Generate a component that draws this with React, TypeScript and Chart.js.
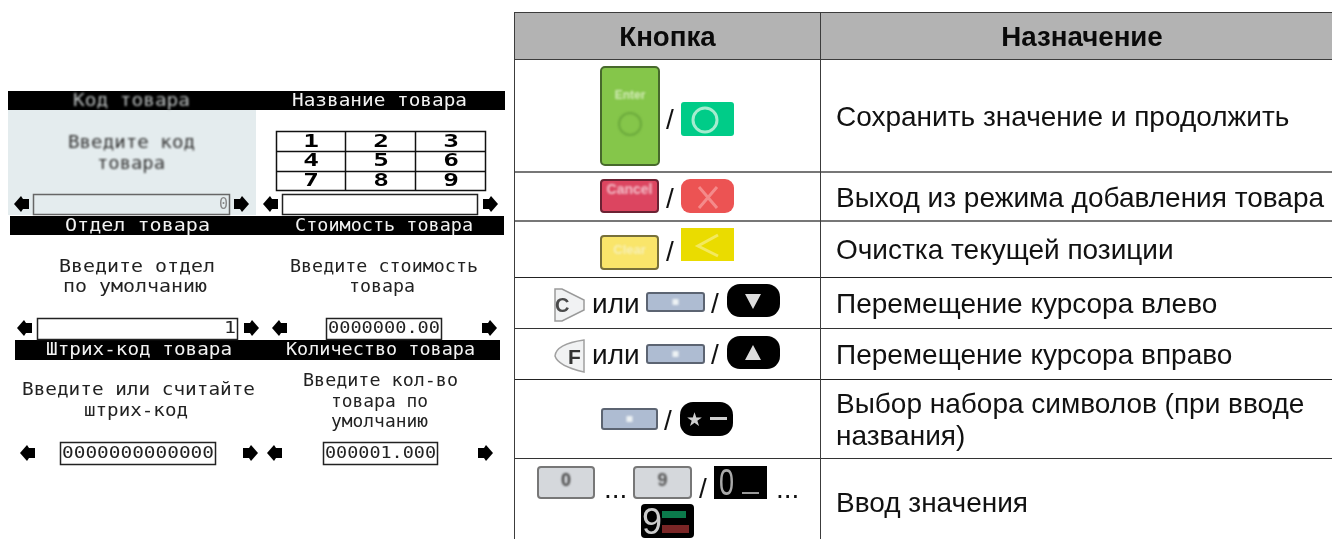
import React, { useEffect, useRef } from "react";
import { Chart, registerables } from "chart.js";
Chart.register(...registerables);

const tableHeaders = ["Кнопка", "Назначение"];
const rowEdges: [number, number, string][] = [
  [59, 1, "#3c3c3c"], [171, 2, "#777"], [220, 2, "#777"], [277, 1, "#222"],
  [328, 1, "#333"], [379, 1, "#222"], [458, 1, "#333"],
];
const purposes = [
  ["Сохранить значение и продолжить"],
  ["Выход из режима добавления товара"],
  ["Очистка текущей позиции"],
  ["Перемещение курсора влево"],
  ["Перемещение курсора вправо"],
  ["Выбор набора символов (при вводе", "названия)"],
  ["Ввод значения"],
];
const purposeBaselines = [[126], [207], [259], [313], [364], [413, 445], [512]];
const barLabels: [string, number, number, number, boolean][] = [
  ["Код товара", 73, 190, 102, true],
  ["Название товара", 292, 467, 102, false],
  ["Отдел товара", 65, 210, 227, false],
  ["Стоимость товара", 295, 473, 227, false],
  ["Штрих-код товара", 46, 232, 351, false],
  ["Количество товара", 286, 475, 351, false],
];
const promptLabels: [string, number, number, number, boolean][] = [
  ["Введите код", 68, 195, 144, true],
  ["товара", 97, 165, 165, true],
  ["Введите отдел", 59, 215, 268, false],
  ["по умолчанию", 63, 207, 288, false],
  ["Введите стоимость", 290, 478, 268, false],
  ["товара", 349, 415, 288, false],
  ["Введите или считайте", 22, 255, 391, false],
  ["штрих-код", 84, 188, 412, false],
  ["Введите кол-во", 303, 458, 382, false],
  ["товара по", 331, 428, 403, false],
  ["умолчанию", 331, 428, 423, false],
];
const keypadDigits = ["1", "2", "3", "4", "5", "6", "7", "8", "9"];
const fields: [string, number, number, number, number, number, number][] = [
  ["0", 33, 230, 194, 215, 219, 228],
  ["", 282, 478, 194, 215, 0, 0],
  ["1", 37, 238, 318, 340, 224, 236],
  ["0000000.00", 326, 442, 318, 340, 328, 440],
  ["0000000000000", 60, 216, 442, 465, 62, 214],
  ["000001.000", 323, 438, 442, 465, 325, 436],
];
const arrows: [number, number, number][] = [
  [22, 204, -1], [241, 204, 1], [271, 204, -1], [490, 204, 1],
  [25, 328, -1], [251, 328, 1], [280, 328, -1], [489, 328, 1],
  [28, 453, -1], [250, 453, 1], [275, 453, -1], [485, 453, 1],
];

const SANS = '"Liberation Sans"';
const MONO = '"DejaVu Sans Mono"';

function fit(ctx: CanvasRenderingContext2D, t: string, l: number, r: number, y: number, size: number) {
  ctx.font = `${size}px ${MONO}`;
  ctx.textAlign = "left";
  ctx.textBaseline = "middle";
  const w = ctx.measureText(t).width;
  ctx.save();
  ctx.translate(l, y);
  ctx.scale((r - l) / w, 1);
  ctx.fillText(t, 0, 0);
  ctx.restore();
}

function rr(ctx: CanvasRenderingContext2D, x0: number, y0: number, x1: number, y1: number, r: number, fill: string, stroke?: string, lw = 2) {
  ctx.beginPath();
  (ctx as any).roundRect(x0, y0, x1 - x0, y1 - y0, r);
  ctx.fillStyle = fill;
  ctx.fill();
  if (stroke) {
    ctx.strokeStyle = stroke;
    ctx.lineWidth = lw;
    ctx.stroke();
  }
}

function sans(ctx: CanvasRenderingContext2D, t: string, x: number, y: number, align: CanvasTextAlign = "left", size = 28, weight = "", color = "#111") {
  ctx.font = `${weight} ${size}px ${SANS}`;
  ctx.fillStyle = color;
  ctx.textAlign = align;
  ctx.textBaseline = "alphabetic";
  ctx.fillText(t, x, y);
}

function smallKey(ctx: CanvasRenderingContext2D, x0: number, y0: number, x1: number, y1: number, label: string, fill: string, stroke: string, textCol: string, size = 13, dy = -6) {
  rr(ctx, x0 + 1, y0 + 1, x1 - 1, y1 - 1, 3, fill, stroke);
  ctx.save();
  ctx.filter = "blur(0.8px)";
  ctx.font = `bold ${size}px ${SANS}`;
  ctx.fillStyle = textCol;
  ctx.textAlign = "center";
  ctx.textBaseline = "middle";
  ctx.fillText(label, (x0 + x1) / 2, (y0 + y1) / 2 + dy);
  ctx.restore();
}

function blackPill(ctx: CanvasRenderingContext2D, x0: number, y0: number, x1: number, y1: number) {
  rr(ctx, x0, y0, x1, y1, 13, "#000");
}

function tri(ctx: CanvasRenderingContext2D, cx: number, cy: number, up: boolean) {
  ctx.beginPath();
  const d = up ? 1 : -1;
  ctx.moveTo(cx, cy - 8 * d);
  ctx.lineTo(cx - 8, cy + 7 * d);
  ctx.lineTo(cx + 8, cy + 7 * d);
  ctx.closePath();
  ctx.fillStyle = "#ddd";
  ctx.fill();
}

function grayKey(ctx: CanvasRenderingContext2D, x0: number, y0: number, x1: number, y1: number) {
  rr(ctx, x0 + 1, y0 + 1, x1 - 1, y1 - 1, 2, "#aebcd2", "#5c6472");
  ctx.save();
  ctx.filter = "blur(0.8px)";
  ctx.fillStyle = "#eef2f4";
  const c = (x0 + x1) / 2;
  const m = (y0 + y1) / 2;
  ctx.fillRect(c - 3, m - 3, 6, 6);
  ctx.restore();
}

const tablePlugin = {
  id: "tablePlugin",
  beforeDraw(chart: any) {
    const ctx: CanvasRenderingContext2D = chart.ctx;
    const X = (v: number) => chart.scales.x.getPixelForValue(v);
    const Y = (v: number) => chart.scales.y.getPixelForValue(v);
    ctx.save();
    ctx.fillStyle = "#fff";
    ctx.fillRect(0, 0, 1332, 539);

    // table header
    ctx.fillStyle = "#b3b3b3";
    ctx.fillRect(X(514), Y(13), 818, 46);
    ctx.fillStyle = "#3c3c3c";
    ctx.fillRect(X(514), Y(12), 818, 1);
    rowEdges.forEach(([e, h, c]) => {
      ctx.fillStyle = c;
      ctx.fillRect(X(514), Y(e), 818, h);
    });
    ctx.fillStyle = "#3c3c3c";
    ctx.fillRect(X(514), Y(12), 1, 527);
    ctx.fillRect(X(820), Y(12), 1, 527);
    sans(ctx, tableHeaders[0], X(667.5), Y(46), "center", 27.7, "bold", "#0a0a0a");
    sans(ctx, tableHeaders[1], X(1082), Y(46), "center", 27.7, "bold", "#0a0a0a");
    purposes.forEach((lines, i) => lines.forEach((l, j) => sans(ctx, l, X(836), Y(purposeBaselines[i][j]))));

    // row 1
    rr(ctx, 601, 67, 659, 165, 4, "#85c64a", "#47692c");
    ctx.save();
    ctx.filter = "blur(0.8px)";
    ctx.font = `bold 12px ${SANS}`;
    ctx.fillStyle = "#d4ecb8";
    ctx.textAlign = "center";
    ctx.fillText("Enter", 630, 99);
    ctx.strokeStyle = "#6ba93c";
    ctx.lineWidth = 2;
    ctx.beginPath();
    ctx.arc(630, 124, 11, 0, Math.PI * 2);
    ctx.stroke();
    ctx.restore();
    sans(ctx, "/", 670, 129, "center");
    rr(ctx, 681, 102, 734, 136, 3, "#00cc88");
    ctx.strokeStyle = "#a5eccf";
    ctx.lineWidth = 3;
    ctx.beginPath();
    ctx.arc(705, 120, 12, 0, Math.PI * 2);
    ctx.stroke();

    // row 2
    smallKey(ctx, 600, 179, 659, 213, "Cancel", "#dc4560", "#6b2233", "#f3c0ca", 14);
    sans(ctx, "/", 670, 208, "center");
    rr(ctx, 681, 179, 734, 213, 9, "#ec5353");
    ctx.save();
    ctx.filter = "blur(0.6px)";
    ctx.strokeStyle = "#f48a8a";
    ctx.lineWidth = 3;
    ctx.beginPath();
    ctx.moveTo(699, 187); ctx.lineTo(717, 208);
    ctx.moveTo(717, 187); ctx.lineTo(699, 208);
    ctx.stroke();
    ctx.restore();

    // row 3
    smallKey(ctx, 600, 235, 659, 270, "Clear", "#f9e56a", "#77703a", "#f7f0b8", 13, -2);
    sans(ctx, "/", 670, 261, "center");
    ctx.fillStyle = "#eadc00";
    ctx.fillRect(681, 228, 53, 33);
    ctx.strokeStyle = "#f3e95e";
    ctx.lineWidth = 3;
    ctx.beginPath();
    ctx.moveTo(718, 235); ctx.lineTo(698, 246); ctx.lineTo(718, 256);
    ctx.stroke();

    // row 4 and 5: function keys
    ctx.save();
    ctx.filter = "blur(0.5px)";
    ctx.beginPath();
    ctx.moveTo(555, 289); ctx.lineTo(562, 289); ctx.lineTo(584, 300); ctx.lineTo(584, 310); ctx.lineTo(562, 321); ctx.lineTo(555, 321); ctx.closePath();
    ctx.fillStyle = "#f1f2f3";
    ctx.fill();
    ctx.strokeStyle = "#9a9a9a";
    ctx.lineWidth = 1.5;
    ctx.stroke();
    sans(ctx, "C", 555, 312, "left", 20, "bold", "#4a4a4a");
    ctx.beginPath();
    ctx.moveTo(584, 340);
    ctx.quadraticCurveTo(556, 344, 555, 356);
    ctx.quadraticCurveTo(558, 366, 584, 372);
    ctx.closePath();
    ctx.fillStyle = "#f1f2f3";
    ctx.fill();
    ctx.strokeStyle = "#a0a0a0";
    ctx.stroke();
    sans(ctx, "F", 568, 364, "left", 21, "bold", "#333");
    ctx.restore();
    [[312.5, 292, 284, false], [364, 344, 336, true]].forEach(([base, ky, py, up]: any) => {
      sans(ctx, "или", 592, base);
      grayKey(ctx, 646, ky, 705, ky + 20);
      sans(ctx, "/", 715, base, "center");
      blackPill(ctx, 727, py, 780, py + 33);
      tri(ctx, 753, py + 17, up);
    });

    // row 6
    grayKey(ctx, 601, 408, 658, 430);
    sans(ctx, "/", 668, 430, "center");
    blackPill(ctx, 680, 402, 733, 436);
    sans(ctx, "★", 694, 426, "center", 19, "", "#cfcfcf");
    ctx.fillStyle = "#cfcfcf";
    ctx.fillRect(710, 417, 17, 3);

    // row 7
    smallKey(ctx, 537, 466, 595, 499, "0", "#d5d8dc", "#777", "#444", 18, -1);
    sans(ctx, "...", 604, 498);
    smallKey(ctx, 633, 466, 692, 499, "9", "#d5d8dc", "#777", "#555", 18, -1);
    sans(ctx, "/", 703, 498, "center");
    ctx.fillStyle = "#000";
    ctx.fillRect(714, 466, 53, 33);
    ctx.save();
    ctx.translate(719, 495);
    ctx.scale(0.75, 1);
    sans(ctx, "0", 0, 0, "left", 36, "", "#aaa");
    ctx.restore();
    ctx.fillStyle = "#999";
    ctx.fillRect(742, 492, 17, 2);
    sans(ctx, "...", 776, 498);
    rr(ctx, 641, 504, 694, 538, 4, "#000");
    sans(ctx, "9", 642, 534, "left", 36, "", "#ccc");
    ctx.save();
    ctx.filter = "blur(0.6px)";
    ctx.fillStyle = "#0b7a4b";
    ctx.fillRect(662, 511, 24, 7);
    ctx.fillStyle = "#7a2626";
    ctx.fillRect(662, 525, 27, 8);
    ctx.restore();

    // LCD panels
    ctx.fillStyle = "#e4ecee";
    ctx.fillRect(8, 110, 248, 105);
    ctx.fillStyle = "#000";
    ctx.fillRect(8, 91, 497, 19);
    ctx.fillRect(10, 216, 246, 19);
    ctx.fillRect(256, 216, 248, 19);
    ctx.fillRect(15, 340, 485, 20);

    // keypad
    ctx.strokeStyle = "#111";
    ctx.lineWidth = 1.5;
    ctx.strokeRect(276.5, 131.5, 209, 59);
    [345.5, 415.5].forEach((x) => { ctx.beginPath(); ctx.moveTo(x, 131); ctx.lineTo(x, 191); ctx.stroke(); });
    [151.5, 171.5].forEach((y) => { ctx.beginPath(); ctx.moveTo(276, y); ctx.lineTo(486, y); ctx.stroke(); });
    ctx.fillStyle = "#000";
    keypadDigits.forEach((d, i) => {
      const cx = 311 + (i % 3) * 70;
      const cy = 142 + Math.floor(i / 3) * 19.5;
      ctx.save();
      ctx.translate(cx, cy);
      ctx.scale(1.45, 1);
      ctx.font = `bold 18px ${MONO}`;
      ctx.textAlign = "center";
      ctx.textBaseline = "middle";
      ctx.fillText(d, 0, 0);
      ctx.restore();
    });

    // fields
    fields.forEach(([t, l, r, tp, bt, tl, tr], i) => {
      ctx.strokeStyle = i === 0 ? "#666" : "#222";
      ctx.lineWidth = 1.5;
      ctx.strokeRect(l + 0.5, tp + 0.5, r - l - 1, bt - tp - 1);
      if (t) {
        ctx.fillStyle = i === 0 ? "#888" : "#222";
        fit(ctx, t, tl, tr, (tp + bt) / 2, 16);
      }
    });
    ctx.fillStyle = "#000";
    arrows.forEach(([x, y, d]) => {
      ctx.beginPath();
      ctx.moveTo(x + 8 * d, y);
      ctx.lineTo(x + 1 * d, y - 8);
      ctx.lineTo(x - 1 * d, y - 5);
      ctx.lineTo(x - 7 * d, y - 5);
      ctx.lineTo(x - 7 * d, y + 5);
      ctx.lineTo(x - 1 * d, y + 5);
      ctx.lineTo(x + 1 * d, y + 8);
      ctx.closePath();
      ctx.fill();
    });

    // labels
    barLabels.forEach(([t, l, r, y, dim]) => {
      ctx.save();
      if (dim) ctx.filter = "blur(0.8px)";
      ctx.fillStyle = dim ? "#b8bcbc" : "#f2f2f2";
      fit(ctx, t, l, r, y, 17);
      ctx.restore();
    });
    promptLabels.forEach(([t, l, r, y, dim]) => {
      ctx.save();
      if (dim) ctx.filter = "blur(0.8px)";
      ctx.fillStyle = dim ? "#333" : "#222";
      fit(ctx, t, l, r, y, 17);
      ctx.restore();
    });
    ctx.restore();
  },
};

export default function App() {
  const ref = useRef<HTMLCanvasElement>(null);
  useEffect(() => {
    document.body.style.margin = "0";
    const chart = new Chart(ref.current!, {
      type: "scatter",
      data: { datasets: [{ data: [], pointRadius: 0 }] },
      options: {
        animation: false,
        responsive: false,
        layout: { padding: 0 },
        plugins: { legend: { display: false }, tooltip: { enabled: false } },
        scales: {
          x: { type: "linear", min: 0, max: 1332, display: false },
          y: { type: "linear", min: 0, max: 539, reverse: true, display: false },
        },
      },
      plugins: [tablePlugin],
    });
    return () => chart.destroy();
  }, []);
  return <canvas ref={ref} width={1332} height={539} style={{ display: "block", position: "absolute", left: 0, top: 0 }} />;
}
